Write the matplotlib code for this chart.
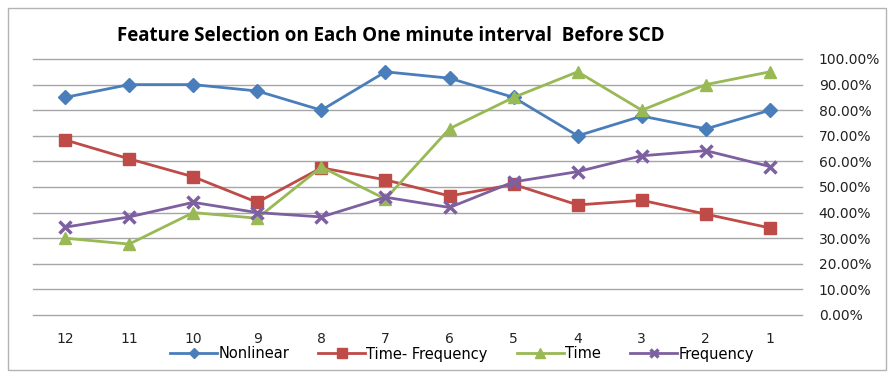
import numpy as np
import matplotlib.pyplot as plt
from matplotlib.patches import Rectangle

# minutes before SCD
minutes = ['12', '11', '10', '9', '8', '7', '6', '5', '4', '3', '2', '1']
nonlinear = [85.0, 90.0, 90.0, 87.5, 80.0, 95.0, 92.5, 85.0, 70.0, 77.7, 72.7, 80.0]
time_freq = [68.4, 61.0, 54.0, 44.0, 57.5, 52.8, 46.5, 51.0, 43.0, 44.8, 39.4, 34.0]
time_dom = [30.0, 27.7, 40.0, 37.8, 57.8, 45.3, 72.8, 85.0, 95.0, 80.0, 90.0, 95.0]
frequency = [34.3, 38.3, 44.0, 40.0, 38.3, 46.0, 42.0, 52.0, 56.0, 62.2, 64.2, 58.0]
yticks = np.arange(0, 101, 10)

fig = plt.figure(figsize=(8.94, 3.76), dpi=100)
fig.patches.append(Rectangle((8 / 894, 6 / 376), 878 / 894, 362 / 376, transform=fig.transFigure,
                             fill=False, edgecolor='#b3b3b3', linewidth=1))
ax = fig.add_axes([33 / 894, 1 - 315 / 376, 769 / 894, 256 / 376])

x = np.arange(len(minutes))
ax.plot(x, nonlinear, color='#4a7ebb', lw=2, marker='D', ms=7, label='Nonlinear')
ax.plot(x, time_freq, color='#be4b48', lw=2, marker='s', ms=9, label='Time- Frequency')
ax.plot(x, time_dom, color='#98b954', lw=2, marker='^', ms=9, label='Time')
ax.plot(x, frequency, color='#7d60a0', lw=2, marker='x', ms=8, mew=2.5, label='Frequency')

ax.set_xlim(-0.5, len(minutes) - 0.5)
ax.set_ylim(0, 100)
ax.set_yticks(yticks)
ax.set_yticklabels(['%.2f%%' % v for v in yticks])
ax.set_xticks(x)
ax.set_xticklabels(minutes)
ax.yaxis.tick_right()
ax.tick_params(axis='y', length=0, pad=12, labelsize=10, labelcolor='#222222')
ax.tick_params(axis='x', length=0, pad=12, labelsize=10, labelcolor='#222222')
for v in yticks:
    ax.axhline(v, color='#a6a6a6', lw=1, zorder=0, clip_on=False)
for s in ax.spines.values():
    s.set_visible(False)

fig.text(391 / 894, 1 - 36 / 376, 'Feature Selection on Each One minute interval  Before SCD',
         ha='center', va='center', fontsize=13.5, fontweight='bold', family='Open Sans')
fig.legend(loc='center', bbox_to_anchor=(462 / 894, 1 - 354 / 376), ncol=4, frameon=False,
           fontsize=10.5, handlelength=3.2, columnspacing=2.0, handletextpad=0.1, markerscale=0.8)

fig.savefig('out.png', dpi=100)
